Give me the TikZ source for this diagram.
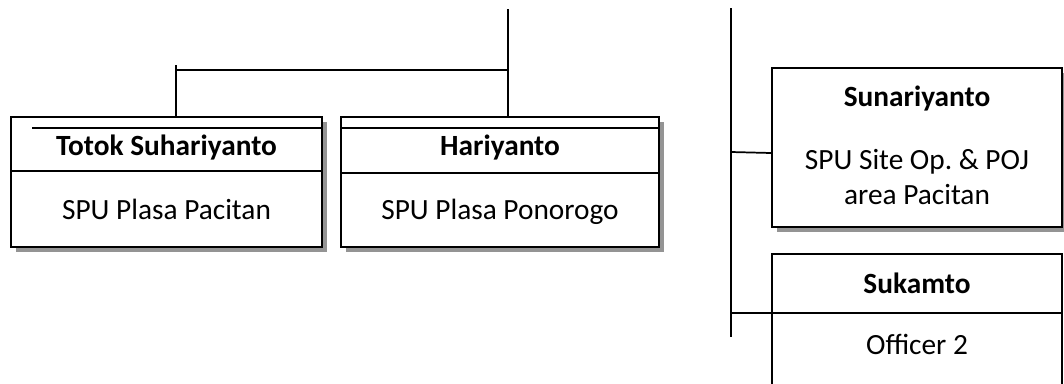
\documentclass[tikz,border=0pt]{standalone}
\usepackage{fontspec}
\setmainfont{Carlito}
\usetikzlibrary{positioning,shadows}

\begin{document}
\begin{tikzpicture}[
  x=0.75pt, y=-0.75pt,
  unitbox/.style={rectangle, draw=black, line width=1.4pt, fill=white, inner sep=0pt,
    drop shadow={shadow xshift=3.5pt, shadow yshift=-3.5pt, fill=black!42, opacity=1}},
  plainbox/.style={rectangle, draw=black, line width=1.4pt, fill=white, inner sep=0pt},
  namelbl/.style={anchor=base, inner sep=0pt, font=\fontsize{22}{26}\selectfont\bfseries},
  rolelbl/.style={anchor=base, inner sep=0pt, align=center, font=\fontsize{22}{26}\selectfont},
  link/.style={draw=black, line width=1.3pt},
  rule/.style={draw=black, line width=1.3pt}
]
\clip (0,0) rectangle (1064,383);

% boxes
\node[unitbox, minimum width=233.25pt, minimum height=97.5pt] (totok) at (166.5,182) {};
\node[unitbox, minimum width=238.5pt, minimum height=97.5pt] (hari) at (500,182) {};
\node[unitbox, minimum width=217.5pt, minimum height=119.25pt] (sunar) at (917,147.5) {};
\node[plainbox, minimum width=217.5pt, minimum height=105.75pt] (sukam) at (917,324.5) {};

% rules inside the boxes
\draw[rule] (32,128) -- (totok.east |- 0,128);
\draw[rule] (totok.west |- 0,171) -- (totok.east |- 0,171);
\draw[rule] (hari.west |- 0,128) -- (hari.east |- 0,128);
\draw[rule] (hari.west |- 0,173) -- (hari.east |- 0,173);

% texts (base of a two-line label is its last line)
\node[namelbl] (totokname) at (166.5,155) {Totok Suhariyanto};
\node[rolelbl] (totokrole) at (166.5,219) {SPU Plasa Pacitan};
\node[namelbl] (hariname) at (500,155) {Hariyanto};
\node[rolelbl] (harirole) at (500,219) {SPU Plasa Ponorogo};
\node[namelbl] (sunarname) at (917,106) {Sunariyanto};
\node[rolelbl] (sunarrole) at (917,204) {SPU Site Op.\ \& POJ\\area Pacitan};
\node[namelbl] (sukamname) at (917,293) {Sukamto};
\node[rolelbl] (sukamrole) at (917,354) {Officer 2};

% connectors
\coordinate (topA) at (508,9);
\coordinate (busL) at (176,65);
\coordinate (rtop) at (731,8);
\coordinate (rbot) at (731,337);
\draw[link] (topA) -- (topA |- hari.north);
\draw[link] (busL) -- (busL |- totok.north);
\draw[link] (busL |- 0,70) -- (topA |- 0,70);
\draw[link] (rtop) -- (rbot);
\draw[link] (rtop |- 0,152) -- (sunar.west |- 0,153);
\draw[link] (rtop |- 0,313) -- (sukam.east |- 0,313);

\end{tikzpicture}
\end{document}
